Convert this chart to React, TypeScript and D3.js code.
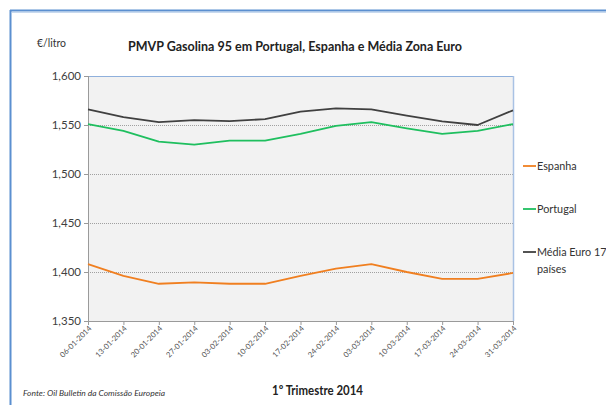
import React from "react";
import * as d3 from "d3";

const categories = ["06-01-2014","13-01-2014","20-01-2014","27-01-2014","03-02-2014","10-02-2014","17-02-2014","24-02-2014","03-03-2014","10-03-2014","17-03-2014","24-03-2014","31-03-2014"];
const espanha = [1.408,1.396,1.388,1.3895,1.388,1.388,1.396,1.4034,1.408,1.400,1.393,1.393,1.399];
const portugal = [1.551,1.544,1.533,1.530,1.534,1.534,1.541,1.549,1.553,1.5466,1.541,1.544,1.551];
const mediaEuro = [1.566,1.558,1.553,1.555,1.554,1.556,1.5636,1.567,1.566,1.5595,1.5538,1.550,1.565];
const yTicks = [1.35,1.4,1.45,1.5,1.55,1.6];

const series = [
  { name: ["Espanha"], values: espanha, color: "#f07f20", ly: 166 },
  { name: ["Portugal"], values: portugal, color: "#1fbf5f", ly: 209 },
  { name: ["Média Euro 17", "países"], values: mediaEuro, color: "#404040", ly: 252 },
];

const W = 606, H = 405;
const L = 88, R = 513, T = 76, B = 321;
const FONT = "Lato, 'Open Sans', sans-serif";

export default function App() {
  const x = d3.scalePoint<string>().domain(categories).range([L, R]);
  const y = d3.scaleLinear().domain([1.35, 1.6]).range([B, T]);
  const fmt = (v: number) => d3.format(".3f")(v).replace(".", ",");
  const line = (vals: number[]) =>
    d3.line<number>().x((_, i) => x(categories[i])!).y((d) => y(d))(vals) || "";

  return (
    <svg width={W} height={H} style={{ position: "absolute", left: 0, top: 0, background: "#fff" }} fontFamily={FONT}>
      <rect x={0} y={0} width={W} height={H} fill="#fff" />
      {/* outer frame */}
      <line x1={10} y1={10.5} x2={W} y2={10.5} stroke="#5b8fd0" strokeWidth={2} />
      <line x1={10.5} y1={10} x2={10.5} y2={H} stroke="#5b8fd0" strokeWidth={2} />
      <line x1={12} y1={12.5} x2={W} y2={12.5} stroke="#c8d9ee" strokeWidth={1} />
      {/* plot area */}
      <rect x={L} y={T} width={R - L} height={B - T} fill="#f2f2f2" />
      {yTicks.filter((t) => t > 1.35 && t < 1.6).map((t) => (
        <line key={t} x1={L} x2={R} y1={Math.round(y(t)) + 0.5} y2={Math.round(y(t)) + 0.5} stroke="#a0a0a0" strokeWidth={1} strokeDasharray="1,1" />
      ))}
      <line x1={L} x2={R} y1={T + 0.5} y2={T + 0.5} stroke="#8fb0dc" strokeWidth={1.2} />
      <line x1={R + 0.5} x2={R + 0.5} y1={T} y2={B} stroke="#a9c2e4" strokeWidth={1.5} />
      {/* axes */}
      <line x1={L + 0.5} x2={L + 0.5} y1={T} y2={B} stroke="#9a9a9a" />
      <line x1={L} x2={R} y1={B + 0.5} y2={B + 0.5} stroke="#9a9a9a" />
      {yTicks.map((t) => (
        <g key={t}>
          <line x1={L - 4} x2={L} y1={Math.round(y(t)) + 0.5} y2={Math.round(y(t)) + 0.5} stroke="#9a9a9a" />
          <text x={L - 7} y={y(t)} dy="0.35em" textAnchor="end" fontSize={11.5} fill="#404040">{fmt(t)}</text>
        </g>
      ))}
      {categories.map((c) => (
        <g key={c}>
          <line x1={x(c)! + 0.5} x2={x(c)! + 0.5} y1={B} y2={B + 4} stroke="#9a9a9a" />
          <text transform={`translate(${x(c)! + 4},${B + 8}) rotate(-45)`} textAnchor="end" fontSize={7.6} fill="#505050">{c}</text>
        </g>
      ))}
      {/* lines */}
      {series.map((s) => (
        <path key={s.color} d={line(s.values)} fill="none" stroke={s.color} strokeWidth={1.8} strokeLinejoin="round" />
      ))}
      {/* legend */}
      {series.map((s) => (
        <g key={s.color + "l"}>
          <line x1={523} x2={536} y1={s.ly} y2={s.ly} stroke={s.color} strokeWidth={1.8} />
          {s.name.map((n, i) => (
            <text key={n} x={537} y={s.ly + i * 17} dy="0.35em" fontSize={10.8} fill="#333">{n}</text>
          ))}
        </g>
      ))}
      {/* titles */}
      <text x={37} y={43} dy="0.35em" fontSize={11} fill="#333" textLength={29} lengthAdjust="spacingAndGlyphs">€/litro</text>
      <text x={295} y={46} dy="0.35em" textAnchor="middle" fontSize={13} fontWeight="bold" fill="#222" textLength={334} lengthAdjust="spacingAndGlyphs">PMVP Gasolina 95 em Portugal, Espanha e Média Zona Euro</text>
      <text x={272} y={390} dy="0.35em" fontSize={13.5} fontWeight="bold" fill="#222" textLength={91} lengthAdjust="spacingAndGlyphs">1º Trimestre 2014</text>
      <text x={23} y={393} dy="0.35em" fontSize={8.5} fontStyle="italic" fill="#333" textLength={142} lengthAdjust="spacingAndGlyphs">Fonte: Oil Bulletin  da Comissão Europeia</text>
    </svg>
  );
}
